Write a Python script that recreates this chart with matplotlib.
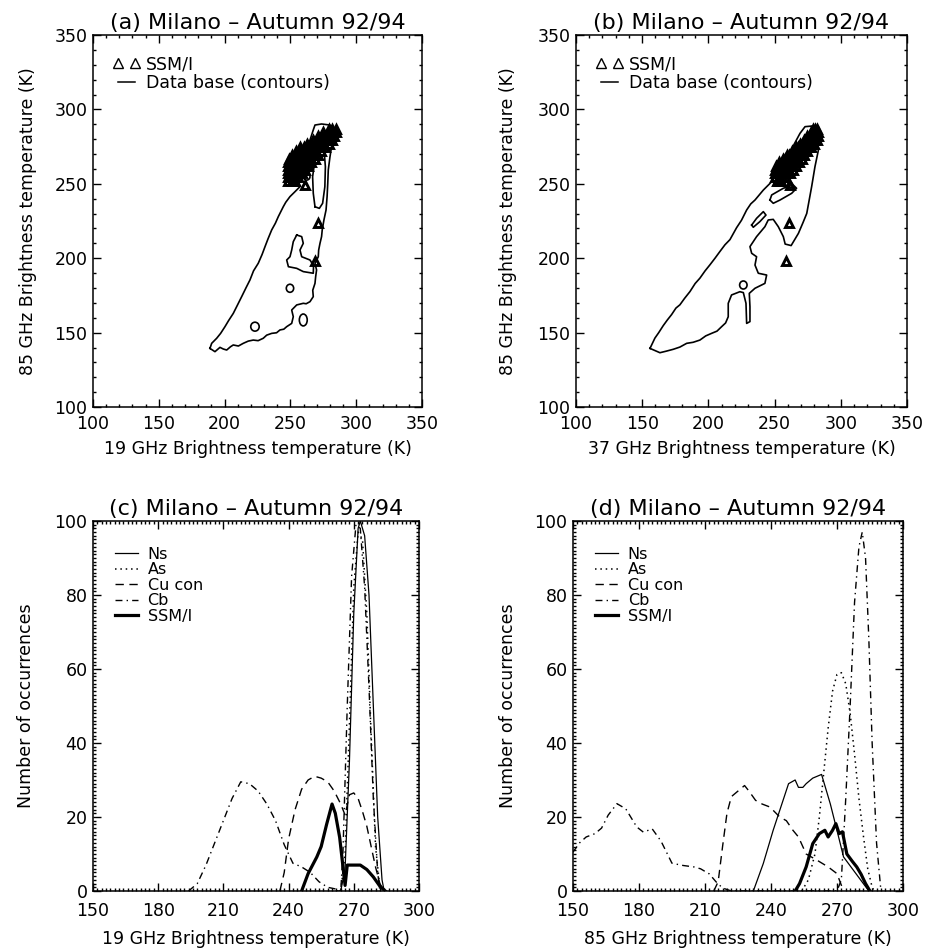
"""
Milano, autumn 92/94: SSM/I brightness temperatures against the cloud data base
"""

import matplotlib
matplotlib.use("Agg")
from matplotlib import pyplot as plt
from matplotlib.patches import Ellipse
from matplotlib.lines import Line2D
from matplotlib.ticker import MultipleLocator

plt.rcParams['font.family'] = ['DejaVu Sans']

# SSM/I pixels (K): 85 GHz with the matching 19 and 37 GHz values
ssmi_tb85 = [252, 252, 252,
             254.5, 254.5, 254.5, 254.5,
             257, 257, 257, 257, 257,
             259.5, 259.5, 259.5, 259.5, 259.5, 259.5,
             262, 262, 262, 262, 262, 262, 262,
             264.5, 264.5, 264.5, 264.5, 264.5, 264.5, 264.5, 264.5,
             267, 267, 267, 267, 267, 267, 267, 267,
             269.5, 269.5, 269.5, 269.5, 269.5, 269.5, 269.5, 269.5,
             272, 272, 272, 272, 272, 272, 272,
             274.5, 274.5, 274.5, 274.5, 274.5, 274.5, 274.5,
             277, 277, 277, 277, 277, 277,
             279.5, 279.5, 279.5, 279.5, 279.5, 279.5,
             282, 282, 282, 282, 282,
             284.5, 284.5, 284.5, 284.5,
             286.5, 286.5, 286.5,
             249, 224, 198]
ssmi_tb19 = [248.5, 251, 253.5,
             248.5, 251, 253.5, 256,
             248.5, 251, 253.5, 256, 258.5,
             248.5, 251, 253.5, 256, 258.5, 261,
             248.5, 251, 253.5, 256, 258.5, 261, 263.5,
             248.5, 251, 253.5, 256, 258.5, 261, 263.5, 266,
             249, 252, 254.5, 257, 260, 262.5, 265.5, 268.5,
             251, 254, 257, 259.5, 262.5, 265.5, 268.5, 271,
             254.5, 257.5, 260.5, 263.5, 266.5, 269.5, 273.5,
             257.5, 260.5, 263.5, 266.5, 269.5, 273, 276.5,
             263, 266, 269, 272, 275.5, 279,
             267, 270, 273, 276, 279, 281.5,
             271, 274, 277.5, 280.5, 283.5,
             275, 278.5, 282, 285,
             279, 282, 285,
             261, 271, 269]
ssmi_tb37 = [251.5, 253, 254.5,
             250.5, 253, 255.5, 258,
             250, 253, 256, 259, 262,
             250, 253, 255.5, 258, 261, 264,
             251, 253.5, 256, 258.5, 261, 264, 266.5,
             253.5, 255.5, 257.5, 259.5, 261.5, 264, 266, 268.5,
             256, 258, 260, 262, 264, 266, 268, 270.5,
             259.5, 261, 263, 264.5, 266.5, 268.5, 270, 272,
             263, 265, 267, 268.5, 270.5, 272.5, 274.5,
             266, 268, 270, 272, 274, 276, 277.5,
             269, 271, 273.5, 275.5, 278, 280,
             272, 274, 276, 278, 280, 282,
             274.5, 277, 279, 281, 283,
             277.5, 279.5, 281.5, 283,
             279, 280.5, 282,
             262, 261, 259]

# data base contours, 19 GHz vs 85 GHz
c19_outer_x = [188.9, 192.7, 196.5, 199.0, 201.6, 204.5, 206.6, 210.5, 214.2, 218.0,
               221.8, 225.5, 229.4, 232.0, 235.8, 239.5, 242.1, 245.0, 247.2, 251.0,
               252.2, 251.0, 254.8, 259.8, 262.0, 264.9, 267.4, 267.0, 268.7, 269.2,
               269.9, 268.7, 271.2, 271.5, 272.5, 273.7, 274.2, 275.5, 277.1, 277.9,
               278.4, 278.8, 280.1, 281.3, 282.1, 282.6, 280.1, 273.7, 268.7, 267.4,
               264.9, 257.3, 252.2, 257.3, 253.5, 249.7, 246.5, 244.6, 240.8, 238.6,
               235.8, 233.0, 230.7, 228.5, 225.6, 222.0, 219.3, 216.5, 213.0, 209.5,
               206.6, 203.0, 200.3, 197.0, 194.0, 190.2, 188.9]
c19_outer_y = [139.4, 137.2, 140.1, 139.0, 138.3, 140.5, 141.7, 141.0, 142.8, 144.3,
               145.0, 144.6, 146.2, 148.3, 149.5, 149.9, 151.8, 152.3, 154.0, 156.2,
               160.7, 165.2, 168.6, 169.7, 169.4, 170.8, 174.2, 178.5, 183.1, 187.5,
               192.1, 196.6, 201.0, 205.5, 210.0, 214.5, 219.0, 225.7, 232.4, 241.4,
               250.3, 259.3, 268.2, 275.0, 281.7, 286.2, 289.5, 290.2, 289.5, 286.2,
               279.4, 266.0, 254.8, 248.1, 244.7, 241.4, 237.6, 234.6, 227.9, 223.5,
               219.0, 213.0, 207.7, 202.5, 196.6, 191.5, 185.4, 180.5, 174.2, 168.0,
               162.9, 158.0, 154.0, 149.5, 146.2, 142.8, 139.4]
c19_tongue_x = [268.7, 267.4, 266.9, 268.7, 272.5, 275.8, 276.6, 276.2, 274.5, 272.0, 268.7]
c19_tongue_y = [234.6, 243.6, 254.8, 266.0, 272.7, 270.5, 261.5, 248.1, 236.9, 233.5, 234.6]
c19_hole_x = [254.8, 258.6, 259.8, 257.3, 258.6, 264.9, 267.6, 267.4, 259.8, 254.8,
              248.5, 247.2, 249.7, 251.0, 252.2, 254.8]
c19_hole_y = [215.6, 214.5, 210.0, 205.5, 201.0, 198.8, 195.0, 189.9, 191.0, 193.2,
              194.3, 198.8, 201.0, 205.5, 211.1, 215.6]
# small closed rings: centre x, centre y, width, height
c19_rings = [(262.4, 254.8, 5.0, 4.6), (249.7, 179.8, 5.6, 5.4),
             (223.1, 154.0, 6.4, 6.0), (259.8, 158.5, 6.0, 8.0)]

# data base contours, 37 GHz vs 85 GHz
c37_outer_x = [155.9, 163.4, 168.0, 173.5, 178.5, 183.6, 188.5, 193.6, 198.0, 202.4,
               206.5, 210.0, 213.0, 215.0, 215.0, 217.5, 223.8, 226.4, 228.4, 228.9,
               231.4, 231.4, 230.9, 235.2, 242.7, 244.0, 237.7, 235.2, 236.4, 232.7,
               231.4, 236.4, 242.7, 245.2, 249.0, 252.8, 256.6, 258.0, 262.5, 268.0,
               271.5, 274.3, 278.0, 280.5, 283.1, 281.8, 278.0, 273.0, 269.2, 262.0,
               255.0, 247.8, 241.5, 235.2, 232.0, 228.9, 225.0, 221.3, 216.3, 212.5,
               208.7, 205.0, 201.2, 197.5, 193.6, 190.0, 186.1, 182.0, 178.5, 175.5,
               172.2, 169.0, 165.9, 162.5, 159.6, 155.9]
c37_outer_y = [139.4, 136.5, 137.5, 138.8, 140.3, 142.8, 143.5, 145.0, 147.8, 149.5,
               151.0, 154.0, 156.5, 160.7, 169.7, 175.3, 177.5, 176.9, 169.7, 156.2,
               157.4, 167.4, 176.4, 179.8, 183.1, 188.7, 189.9, 195.4, 201.0, 203.3,
               207.8, 214.5, 221.2, 225.7, 226.1, 221.2, 214.5, 209.5, 208.5, 216.7,
               224.0, 230.1, 248.1, 261.5, 272.7, 283.9, 288.8, 288.4, 283.9, 272.0,
               262.0, 251.4, 245.8, 239.1, 236.5, 232.4, 225.5, 220.5, 212.5, 209.0,
               204.5, 200.0, 195.6, 191.5, 186.6, 183.0, 177.6, 173.0, 168.7, 166.5,
               162.1, 158.5, 154.7, 150.0, 146.3, 139.4]
c37_tongue_x = [246.5, 247.8, 256.6, 264.1, 266.6, 262.9, 254.1, 249.0, 246.5]
c37_tongue_y = [239.1, 242.5, 247.0, 249.2, 247.0, 243.6, 239.1, 236.9, 239.1]
c37_islet_x = [232.7, 236.4, 241.5, 243.5, 238.9, 233.9, 232.7]
c37_islet_y = [222.3, 226.8, 231.3, 229.0, 224.6, 220.8, 222.3]
c37_rings = [(226.4, 182.0, 5.6, 5.4), (261.7, 249.2, 4.0, 3.6)]

# histograms of 19 GHz brightness temperature (number of occurrences)
ns19_t = [262, 264, 266, 268, 270, 272, 273, 275, 277, 279, 281, 283, 284]
ns19_n = [0, 0, 6, 35, 75, 98, 100, 96, 80, 50, 20, 3, 0]
as19_t = [262, 264, 266, 268, 270, 272, 274, 276, 278, 280, 282, 283]
as19_n = [0, 0, 10, 45, 82, 97, 95, 75, 42, 12, 1, 0]
cu19_t = [236, 238, 240, 243, 246, 249, 252, 255, 258, 261, 264, 266, 268, 270,
          272, 274, 276, 278, 280, 282, 284]
cu19_n = [0, 5, 14, 22, 27.5, 30, 31, 30.5, 29.5, 27, 23.5, 20.5, 26, 26.5,
          25, 21.5, 17.5, 12, 6.5, 2, 0]
cb19_t = [194, 198, 202, 206, 210, 214, 218, 222, 226, 230, 234, 238, 242, 246,
          250, 254, 258, 262, 264, 265, 267, 269, 271, 273, 275, 277, 279, 281, 282]
cb19_n = [0, 2, 7, 13, 19, 25, 29.5, 29, 27, 23.5, 19, 12.5, 7.5, 6.5,
          5, 2.5, 1, 0.5, 0, 10, 50, 85, 99, 98, 82, 55, 25, 5, 0]
ssmi19_t = [246, 249, 253, 255, 257.5, 260, 261.5, 263.5, 266, 267, 270, 273,
            276, 279, 282, 284.5]
ssmi19_n = [0, 4.7, 9.2, 12, 18, 23.5, 21, 14.5, 1.5, 7, 7, 7, 5.8, 3.8, 1.3, 0]

# histograms of 85 GHz brightness temperature
ns85_t = [232, 236.5, 241, 245, 248, 251, 252.5, 254.5, 256, 259, 263, 267, 270,
          273, 277.5, 282, 284.5]
ns85_n = [0, 7.4, 16.4, 23.6, 29, 30, 28, 28, 29, 30.5, 31.5, 23.5, 16.4,
          9.2, 5.6, 2, 0]
as85_t = [254, 257, 260, 262, 264, 266, 268, 270, 272, 274, 276, 278, 280, 282,
          284, 286, 287]
as85_n = [0, 3, 10, 20, 32, 44, 54, 58.5, 59, 56, 48, 37, 25, 15, 6, 1, 0]
cu85_t = [214, 216, 218, 220, 222, 225, 228, 230, 233, 236, 239.5, 244, 247, 250,
          252.5, 256, 261, 266, 270, 273]
cu85_n = [0, 2.5, 12, 21, 25.5, 27, 28.5, 27, 24.5, 23.5, 22.7, 20, 19, 16.4,
          14.6, 10, 8.3, 6.5, 4.7, 0]
cb85_t = [150, 153, 156, 160, 163, 166, 170, 174, 179, 182, 186, 190, 195, 200,
          205, 208, 212, 215, 218, 222, 270, 272, 274, 276, 278, 280, 281.5, 283,
          284.5, 286, 288, 290]
cb85_n = [10.5, 13, 14.6, 15.5, 17, 20.5, 23.6, 22.2, 17.3, 15.9, 16.8, 13.5, 7.5,
          6.9, 6.5, 6, 4.6, 2.5, 0.8, 0, 0, 3, 25, 50, 78, 93, 97, 90, 68, 40, 13, 0]
ssmi85_t = [251, 253, 256, 259, 262, 264.5, 266, 268, 269.5, 271, 272.5, 274.5,
            277, 279, 281, 283, 285]
ssmi85_n = [0, 2, 6.5, 12.8, 15.5, 16.4, 14.6, 16.4, 18.2, 15.5, 16, 10, 8,
            6.5, 4.5, 2, 0]

titulo = 'Milano \u2013 Autumn 92/94'
FS = 12.5

fig = plt.figure(figsize=(9.39, 9.51), dpi=100)
ax_a = fig.add_axes([0.0990, 0.5720, 0.3504, 0.3912])
ax_b = fig.add_axes([0.6134, 0.5720, 0.3525, 0.3912])
ax_c = fig.add_axes([0.0990, 0.0631, 0.3472, 0.3891])
ax_d = fig.add_axes([0.6102, 0.0631, 0.3514, 0.3891])


def marco(ax, mayor, menor, xpad):
    # ticks hacia dentro en los cuatro lados
    ax.xaxis.set_major_locator(MultipleLocator(mayor[0]))
    ax.xaxis.set_minor_locator(MultipleLocator(menor[0]))
    ax.yaxis.set_major_locator(MultipleLocator(mayor[1]))
    ax.yaxis.set_minor_locator(MultipleLocator(menor[1]))
    ax.tick_params(which='both', direction='in', top=True, right=True, width=1.0)
    ax.tick_params(which='major', length=5.5, labelsize=FS)
    ax.tick_params(which='minor', length=2.5)
    ax.tick_params(axis='x', pad=xpad)
    ax.tick_params(axis='y', pad=4)
    for s in ax.spines.values():
        s.set_linewidth(1.1)


def dispersion(ax, letra, tbx, canal, contornos, anillos, ylab_x):
    for cx, cy in contornos:
        ax.plot(cx, cy, color='k', lw=1.2)
    for x0, y0, w, h in anillos:
        ax.add_patch(Ellipse((x0, y0), w, h, fill=False, ec='k', lw=1.2))
    ax.plot(tbx, ssmi_tb85, ls='none', marker='^', ms=6.0, mfc='none', mec='k', mew=2.1)
    ax.set_xlim(100, 350)
    ax.set_ylim(100, 350)
    marco(ax, (50, 50), (10, 10), 6)
    ax.set_xlabel(canal + ' GHz Brightness temperature (K)', fontsize=FS)
    ax.set_ylabel('85 GHz Brightness temperature (K)', fontsize=FS)
    ax.xaxis.set_label_coords(0.5, -0.088)
    ax.yaxis.set_label_coords(ylab_x, 0.5)
    ax.set_title('(' + letra + ') ' + titulo, fontsize=16, pad=4)
    h1 = Line2D([], [], ls='none', marker='^', ms=6.5, mfc='none', mec='k', mew=1.0)
    h2 = Line2D([], [], color='k', lw=1.1)
    ax.legend([h1, h2], ['SSM/I', 'Data base (contours)'], numpoints=2,
              loc='upper left', bbox_to_anchor=(0.06, 0.945), frameon=False,
              borderpad=0, borderaxespad=0, handlelength=1.6, handletextpad=0.3,
              labelspacing=0.05, fontsize=FS)


def histograma(ax, letra, series, canal, ylab_x):
    estilos = [('Ns', '-', 0.9), ('As', (0, (1, 2.5)), 1.1), ('Cu con', (0, (6, 4)), 1.0),
               ('Cb', (0, (5, 3, 1, 3)), 1.0), ('SSM/I', '-', 2.3)]
    lineas = []
    for (t, n), (nombre, ls, lw) in zip(series, estilos):
        l, = ax.plot(t, n, color='k', ls=ls, lw=lw, label=nombre)
        lineas.append(l)
    ax.set_xlim(150, 300)
    ax.set_ylim(0, 100)
    marco(ax, (30, 20), (2, 1), 8)
    ax.set_xlabel(canal + ' GHz Brightness temperature (K)', fontsize=FS)
    ax.set_ylabel('Number of occurrences', fontsize=FS)
    ax.xaxis.set_label_coords(0.5, -0.105)
    ax.yaxis.set_label_coords(ylab_x, 0.5)
    ax.set_title('(' + letra + ') ' + titulo, fontsize=16, pad=4)
    ax.legend(handles=lineas, loc='upper left', bbox_to_anchor=(0.067, 0.93),
              frameon=False, borderpad=0, borderaxespad=0, handlelength=1.45,
              handletextpad=0.6, labelspacing=0.03, fontsize=11.5)


dispersion(ax_a, 'a', ssmi_tb19, '19',
           [(c19_outer_x, c19_outer_y), (c19_tongue_x, c19_tongue_y), (c19_hole_x, c19_hole_y)],
           c19_rings, -0.17)
dispersion(ax_b, 'b', ssmi_tb37, '37',
           [(c37_outer_x, c37_outer_y), (c37_tongue_x, c37_tongue_y), (c37_islet_x, c37_islet_y)],
           c37_rings, -0.178)

histograma(ax_c, 'c', [(ns19_t, ns19_n), (as19_t, as19_n), (cu19_t, cu19_n),
                       (cb19_t, cb19_n), (ssmi19_t, ssmi19_n)], '19', -0.178)
histograma(ax_d, 'd', [(ns85_t, ns85_n), (as85_t, as85_n), (cu85_t, cu85_n),
                       (cb85_t, cb85_n), (ssmi85_t, ssmi85_n)], '85', -0.17)

plt.savefig('out.png', dpi=100)
